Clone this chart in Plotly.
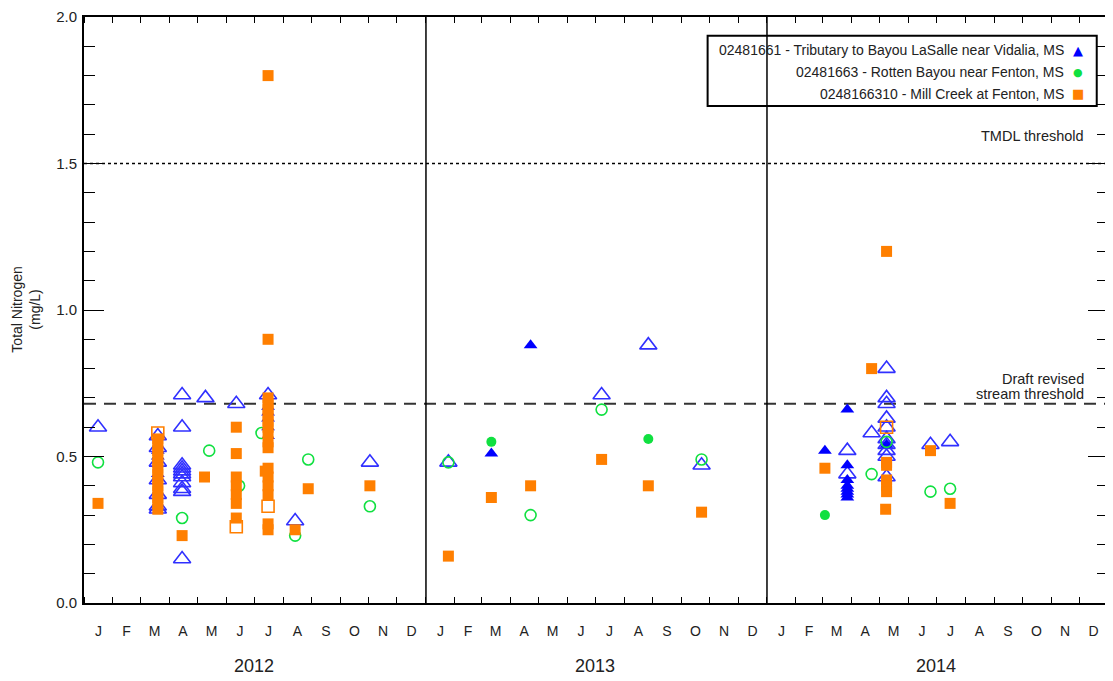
import plotly.graph_objects as go

# ---------------- data (sample date, [values mg/L]) ----------------
site_names = [
    "02481661 - Tributary to Bayou LaSalle near Vidalia, MS",
    "02481663 - Rotten Bayou near Fenton, MS",
    "0248166310 - Mill Creek at Fenton, MS",
]

tributary_filled = [
    ("2012-03-20", [0.52, 0.50, 0.44]),
    ("2012-07-16", [0.67, 0.65, 0.63, 0.60, 0.57]),
    ("2013-03-12", [0.51]),
    ("2013-04-23", [0.88]),
    ("2014-03-04", [0.52]),
    ("2014-03-28", [0.66, 0.47, 0.42, 0.40, 0.39, 0.38, 0.37, 0.36]),
    ("2014-05-09", [0.54]),
]
tributary_open = [
    ("2012-01-16", [0.60]),
    ("2012-03-20", [0.57, 0.53, 0.48, 0.42, 0.37, 0.33, 0.32]),
    ("2012-04-15", [0.71, 0.60, 0.47, 0.46, 0.45, 0.44, 0.43, 0.41, 0.39, 0.38, 0.15]),
    ("2012-05-10", [0.70]),
    ("2012-06-12", [0.68]),
    ("2012-07-16", [0.71]),
    ("2012-08-14", [0.28]),
    ("2012-11-02", [0.48]),
    ("2013-01-25", [0.48]),
    ("2013-07-08", [0.71]),
    ("2013-08-27", [0.88]),
    ("2013-10-23", [0.47]),
    ("2014-03-28", [0.52, 0.44]),
    ("2014-04-23", [0.58]),
    ("2014-05-09", [0.80, 0.70, 0.68, 0.63, 0.60, 0.56, 0.54, 0.52, 0.50, 0.43]),
    ("2014-06-25", [0.54]),
    ("2014-07-16", [0.55]),
]

rotten_filled = [
    ("2013-03-12", [0.55]),
    ("2013-08-27", [0.56]),
    ("2014-03-04", [0.30]),
]
rotten_open = [
    ("2012-01-16", [0.48]),
    ("2012-04-15", [0.29]),
    ("2012-05-14", [0.52]),
    ("2012-06-15", [0.40]),
    ("2012-07-09", [0.58]),
    ("2012-08-14", [0.23]),
    ("2012-08-28", [0.49]),
    ("2012-11-02", [0.33]),
    ("2013-01-25", [0.48]),
    ("2013-04-23", [0.30]),
    ("2013-07-08", [0.66]),
    ("2013-10-23", [0.49]),
    ("2014-04-23", [0.44]),
    ("2014-05-09", [0.55]),
    ("2014-06-25", [0.38]),
    ("2014-07-16", [0.39]),
]

mill_filled = [
    ("2012-01-16", [0.34]),
    ("2012-03-20", [0.56, 0.54, 0.52, 0.50, 0.48, 0.46, 0.44, 0.42, 0.40, 0.38, 0.36, 0.34, 0.32]),
    ("2012-04-15", [0.23]),
    ("2012-05-09", [0.43]),
    ("2012-06-12", [0.60, 0.51, 0.43, 0.40, 0.37, 0.34, 0.29]),
    ("2012-07-13", [0.45]),
    ("2012-07-16", [1.80, 0.90, 0.70, 0.68, 0.66, 0.64, 0.62, 0.60, 0.58, 0.55, 0.53,
                    0.46, 0.43, 0.40, 0.37, 0.27, 0.25]),
    ("2012-08-14", [0.25]),
    ("2012-08-28", [0.39]),
    ("2012-11-02", [0.40]),
    ("2013-01-25", [0.16]),
    ("2013-03-12", [0.36]),
    ("2013-04-23", [0.40]),
    ("2013-07-08", [0.49]),
    ("2013-08-27", [0.40]),
    ("2013-10-23", [0.31]),
    ("2014-03-04", [0.46]),
    ("2014-04-23", [0.80]),
    ("2014-05-09", [1.20, 0.48, 0.47, 0.42, 0.40, 0.38]),
    ("2014-05-08", [0.32]),
    ("2014-06-25", [0.52]),
    ("2014-07-16", [0.34]),
]
mill_open = [
    ("2012-03-20", [0.58]),
    ("2012-06-12", [0.26]),
    ("2012-07-16", [0.33]),
    ("2014-05-09", [0.60]),
]

tmdl_threshold = 1.5
draft_threshold = 0.68
year_starts = ["2013-01-01", "2014-01-01"]
years = ["2012", "2013", "2014"]
year_mid = ["2012-07-01", "2013-07-01", "2014-07-01"]
month_alias = {"Jan": "J", "Feb": "F", "Mar": "M", "Apr": "A", "May": "M", "Jun": "J",
               "Jul": "J", "Aug": "A", "Sep": "S", "Oct": "O", "Nov": "N", "Dec": "D"}

BLUE = "#0000ff"
BLUE_OPEN = "#3030ff"
GREEN = "#10e040"
ORANGE = "#ff7f00"
FONT = "Liberation Sans, Arial, sans-serif"
NARROW = "Liberation Sans Narrow, Arial Narrow, Liberation Sans, Arial, sans-serif"


def flatten(rows):
    xs, ys = [], []
    for d, vals in rows:
        for v in vals:
            xs.append(d)
            ys.append(v)
    return xs, ys


fig = go.Figure()


def add(rows, symbol, color, size, filled, lw=1.6):
    xs, ys = flatten(rows)
    fig.add_trace(go.Scatter(
        x=xs, y=ys, mode="markers", showlegend=False, hoverinfo="x+y",
        marker=dict(symbol=symbol if filled else symbol + "-open", size=size,
                    color=color, line=dict(color=color, width=lw if not filled else 0)),
    ))


add(tributary_open, "triangle-up", BLUE_OPEN, 15, False)
add(tributary_filled, "triangle-up", BLUE, 12, True)
add(rotten_open, "circle", GREEN, 11, False)
add(mill_filled, "square", ORANGE, 11, True)
add(mill_open, "square", ORANGE, 12, False)
add(rotten_filled, "circle", GREEN, 10, True)

shapes = []
for ys_ in year_starts:
    shapes.append(dict(type="line", xref="x", yref="paper", x0=ys_, x1=ys_, y0=0, y1=1,
                       line=dict(color="black", width=1.5), layer="above"))
shapes.append(dict(type="line", xref="paper", yref="y", x0=0, x1=1,
                   y0=tmdl_threshold, y1=tmdl_threshold,
                   line=dict(color="black", width=1.5, dash="dot"), layer="below"))
shapes.append(dict(type="line", xref="paper", yref="y", x0=0, x1=1,
                   y0=draft_threshold, y1=draft_threshold,
                   line=dict(color="#333333", width=2, dash="12px,8px"), layer="below"))
# legend box
shapes.append(dict(type="rect", xref="paper", yref="paper", x0=0.609, x1=0.989,
                   y0=0.848, y1=0.968, line=dict(color="black", width=2),
                   fillcolor="rgba(0,0,0,0)", layer="above"))

annotations = []
for name, y_, glyph, col, gsize in zip(site_names, [0.943, 0.906, 0.869],
                                       ["▲", "●", "■"], [BLUE, GREEN, ORANGE], [13, 11, 13]):
    annotations.append(dict(xref="paper", yref="paper", x=0.959, y=y_, text=name,
                            showarrow=False, xanchor="right", yanchor="middle",
                            font=dict(family=FONT, size=14, color="#222")))
    annotations.append(dict(xref="paper", yref="paper", x=0.9707, y=y_, text=glyph,
                            showarrow=False, xanchor="center", yanchor="middle",
                            font=dict(family="DejaVu Sans", size=gsize, color=col)))

for txt, yy in [("TMDL threshold", 0.797), ("Draft revised", 0.382), ("stream threshold", 0.356)]:
    annotations.append(dict(xref="paper", yref="paper", x=0.9785, y=yy, text=txt,
                            showarrow=False, xanchor="right", yanchor="middle",
                            font=dict(family=FONT, size=14.5, color="#222")))
for yr, xm in zip(years, year_mid):
    annotations.append(dict(xref="x", yref="paper", x=xm, y=-0.108, text=yr,
                            showarrow=False, xanchor="center", yanchor="middle",
                            font=dict(family=NARROW, size=18, color="#222")))
annotations.append(dict(xref="paper", yref="paper", x=-0.057, y=0.5,
                        text="Total Nitrogen<br>(mg/L)", textangle=-90,
                        showarrow=False, xanchor="center", yanchor="middle",
                        font=dict(family=FONT, size=14, color="#222")))

# page body adds an 8px offset: compensate in size and margins
fig.update_layout(
    width=1105, height=673,
    margin=dict(l=76, r=5, t=9, b=78, autoexpand=False),
    paper_bgcolor="white", plot_bgcolor="white",
    font=dict(family=FONT, size=13, color="#222"),
    shapes=shapes, annotations=annotations,
    showlegend=False,
)
fig.update_xaxes(
    type="date", range=["2012-01-01", "2015-01-01"],
    tick0="2012-01-01", dtick="M1", tickformat="%b", ticklabelmode="period",
    labelalias=month_alias, ticks="inside", ticklen=6, tickwidth=1.2, tickcolor="black",
    showline=True, linecolor="black", linewidth=1.8, mirror="ticks",
    showgrid=False, zeroline=False, ticklabelstandoff=14,
    tickfont=dict(family=NARROW, size=14, color="#222"),
)
fig.update_yaxes(
    range=[0, 2.0], tickvals=[0, 0.5, 1.0, 1.5, 2.0], tickformat=".1f",
    ticks="inside", ticklen=20, tickwidth=1.2, tickcolor="black",
    minor=dict(dtick=0.1, ticks="inside", ticklen=11, tickcolor="black", tickwidth=1.2,
               showgrid=False),
    showline=True, linecolor="black", linewidth=1.8, mirror="ticks",
    showgrid=False, zeroline=False, ticklabelstandoff=2, ticklabeloverflow="allow",
    tickfont=dict(family=FONT, size=15, color="#222"),
)

fig.write_html("out.html")
